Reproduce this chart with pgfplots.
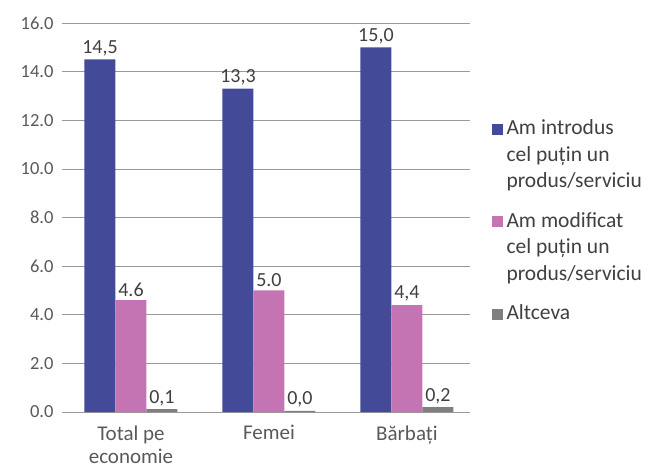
\documentclass[border=0pt]{standalone}
\usepackage{pgfplots}
\pgfplotsset{compat=1.18}
\usepackage{fontspec}
\setmainfont{Carlito}
\definecolor{barBlue}{HTML}{434A98}
\definecolor{barPink}{HTML}{C473B3}
\definecolor{barGray}{HTML}{7F7F7F}
\definecolor{txtGray}{HTML}{595959}
\definecolor{lblGray}{HTML}{404040}
\definecolor{gridGray}{HTML}{9A9A9A}
\pgfplotsset{
    sqlow/.style={legend image code/.code={\fill[##1] (0bp,0bp) rectangle (11bp,11bp);}},
    sqhigh/.style={legend image code/.code={\fill[##1] (0bp,53bp) rectangle (11bp,64bp);}},
}

\begin{document}
\begin{tikzpicture}
\useasboundingbox (-62bp,-56bp) rectangle (587bp,412bp);
\begin{axis}[
    scale only axis,
    width=408bp, height=389bp,
    xmin=-0.5, xmax=2.457,
    ymin=0, ymax=16,
    ytick={0,2,...,16},
    yticklabel style={/pgf/number format/.cd,fixed,fixed zerofill,precision=1,/tikz/.cd,xshift=-5bp,
        font=\fontsize{18.5bp}{22bp}\selectfont},
    /pgf/number format/assume math mode=true,
    xtick={0,1,2},
    xticklabels={{Total pe\\economie},Femei,Bărbați},
    xticklabel style={align=center, font=\fontsize{21bp}{23bp}\selectfont, yshift=-10bp},
    tick label style={text=txtGray},
    major tick length=0pt,
    axis x line*=bottom,
    axis y line*=left,
    y axis line style={draw=none},
    x axis line style={draw=gridGray, line width=0.8pt, -},
    ymajorgrids,
    grid style={draw=gridGray, line width=0.6pt},
    ybar=0pt,
    bar width=31bp,
    point meta=explicit symbolic,
    nodes near coords,
    every node near coord/.append style={text=lblGray, font=\fontsize{20bp}{22bp}\selectfont},
    legend style={draw=none, fill=none, at={(1.045,0.762)}, anchor=north west,
        row sep=19bp, column sep=2bp,
        font=\fontsize{21.5bp}{26.5bp}\selectfont, text=lblGray,
        cells={anchor=base west, align=left}},
]
\addplot[fill=barBlue, draw=none, sqhigh] table[meta=lab] {
x y lab
0 14.5 14,5
1 13.3 13,3
2 15.0 15,0
};
\addplot[fill=barPink, draw=none, sqhigh] table[meta=lab] {
x y lab
0 4.6 4.6
1 5.0 5.0
2 4.4 4,4
};
\addplot[fill=barGray, draw=none, sqlow] table[meta=lab] {
x y lab
0 0.12 0,1
1 0.05 0,0
2 0.2 0,2
};
\legend{{Am introdus\\cel puțin un\\produs/serviciu},{Am modificat\\cel puțin un\\produs/serviciu},Altceva}
\end{axis}
\end{tikzpicture}
\end{document}
